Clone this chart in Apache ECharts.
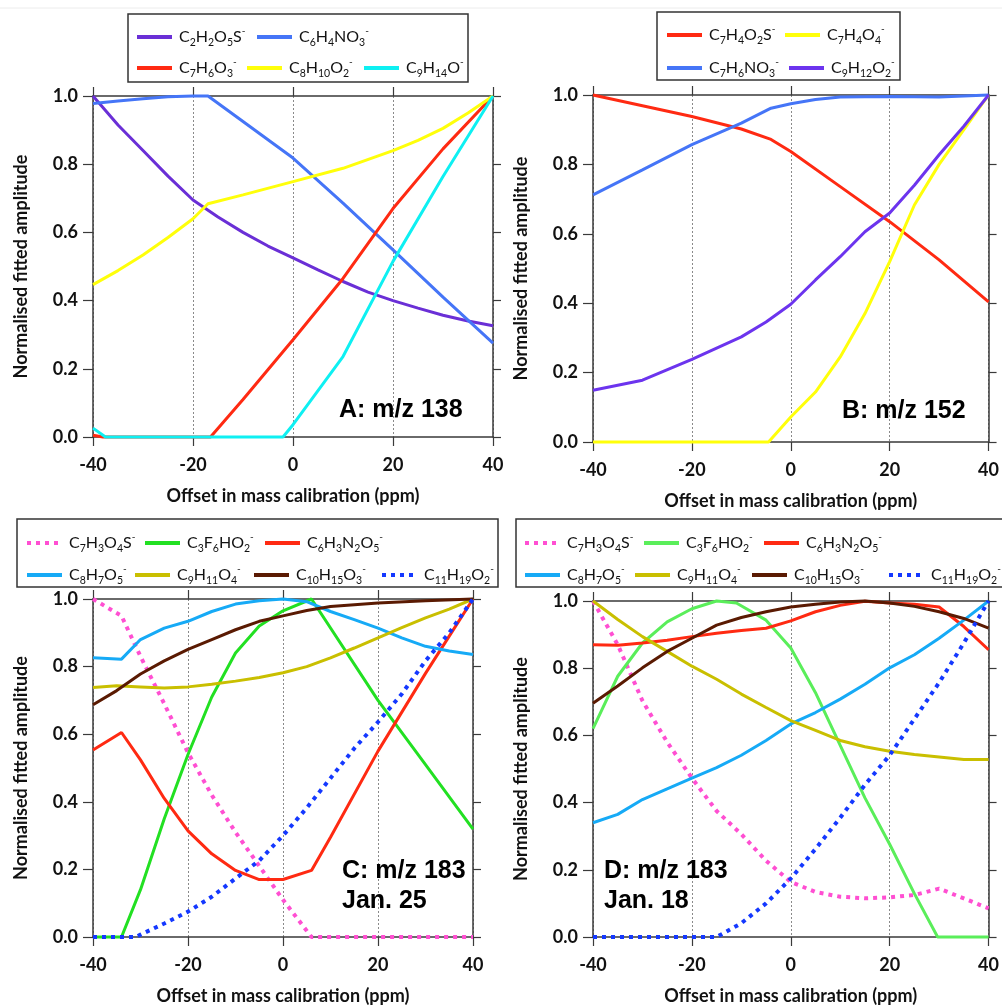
<!DOCTYPE html>
<html>
<head>
<meta charset="utf-8">
<script src="https://cdn.jsdelivr.net/npm/echarts@6/dist/echarts.min.js"></script>
<style>
html,body{margin:0;padding:0;background:#fff;}
#chart{width:1002px;height:1006px;}
</style>
</head>
<body>
<div id="chart"></div>
<script>
// ---------- Data (x = offset in ppm, y = normalised fitted amplitude) ----------
// Panel A: m/z 138
const a_C2H2O5S = [[-40,1.0],[-35,0.915],[-30,0.84],[-25,0.765],[-20,0.695],[-15,0.645],[-10,0.60],[-5,0.56],[0,0.525],[5,0.49],[10,0.456],[15,0.425],[20,0.40],[25,0.378],[30,0.357],[35,0.34],[40,0.326]];
const a_C6H4NO3 = [[-40,0.978],[-35,0.985],[-30,0.992],[-25,0.998],[-20,1.0],[-17,1.0],[-10,0.925],[0,0.818],[10,0.686],[20,0.549],[30,0.41],[40,0.275]];
const a_C7H6O3 = [[-40,0.005],[-38,0],[-16.5,0],[-10,0.11],[0,0.285],[10,0.465],[20,0.67],[30,0.845],[40,1.0]];
const a_C8H10O2 = [[-40,0.447],[-35,0.488],[-30,0.534],[-25,0.585],[-20,0.64],[-17,0.684],[-10,0.71],[0,0.749],[10,0.788],[20,0.84],[25,0.87],[30,0.905],[35,0.95],[40,1.0]];
const a_C9H14O = [[-40,0.026],[-37.5,0],[-2,0],[0,0.036],[10,0.236],[20,0.515],[30,0.764],[40,1.0]];

// Panel B: m/z 152
const b_C7H4O2S = [[-40,1.0],[-30,0.969],[-20,0.938],[-10,0.902],[-4,0.872],[0,0.837],[10,0.736],[20,0.635],[30,0.525],[40,0.404]];
const b_C7H4O4 = [[-40,0],[-4.5,0],[0,0.072],[5,0.144],[10,0.245],[15,0.37],[20,0.52],[25,0.683],[30,0.80],[35,0.90],[40,1.0]];
const b_C7H6NO3 = [[-40,0.712],[-30,0.784],[-20,0.857],[-10,0.919],[-4,0.962],[0,0.975],[5,0.987],[10,0.994],[20,0.996],[30,0.994],[40,1.0]];
const b_C9H12O2 = [[-40,0.149],[-30,0.178],[-20,0.238],[-10,0.303],[-5,0.346],[0,0.397],[5,0.467],[10,0.534],[15,0.606],[20,0.66],[25,0.74],[30,0.828],[35,0.91],[40,1.0]];

// Panel C: m/z 183, Jan. 25
const c_C7H3O4S = [[-40,1.0],[-34,0.95],[-30,0.83],[-25,0.69],[-20,0.545],[-15,0.42],[-10,0.31],[-5,0.21],[0,0.11],[6,0],[40,0]];
const c_C3F6HO2 = [[-40,0],[-34,0],[-30,0.14],[-25,0.35],[-20,0.54],[-15,0.71],[-10,0.84],[-5,0.92],[0,0.965],[6,1.0],[20,0.70],[30,0.51],[40,0.319]];
const c_C6H3N2O5 = [[-40,0.553],[-34,0.605],[-30,0.524],[-25,0.41],[-20,0.314],[-15,0.246],[-10,0.197],[-5,0.17],[0,0.17],[6,0.197],[10,0.295],[20,0.55],[30,0.78],[35,0.89],[40,1.0]];
const c_C8H7O5 = [[-40,0.826],[-34,0.822],[-30,0.88],[-25,0.914],[-20,0.934],[-15,0.963],[-10,0.985],[-5,0.995],[0,1.0],[5,0.992],[10,0.963],[15,0.939],[20,0.914],[25,0.885],[30,0.86],[35,0.846],[40,0.836]];
const c_C9H11O4 = [[-40,0.738],[-35,0.743],[-30,0.74],[-25,0.737],[-20,0.74],[-15,0.748],[-10,0.757],[-5,0.768],[0,0.782],[5,0.8],[10,0.826],[15,0.855],[20,0.885],[25,0.915],[30,0.944],[35,0.97],[40,1.0]];
const c_C10H15O3 = [[-40,0.687],[-35,0.729],[-30,0.778],[-25,0.817],[-20,0.851],[-15,0.88],[-10,0.909],[-5,0.934],[0,0.95],[5,0.966],[10,0.978],[20,0.988],[30,0.995],[40,1.0]];
const c_C11H19O2 = [[-40,0],[-31,0],[-30,0.007],[-25,0.04],[-20,0.075],[-15,0.119],[-10,0.173],[-5,0.226],[0,0.3],[5,0.382],[10,0.47],[15,0.558],[20,0.636],[25,0.719],[30,0.817],[35,0.9],[40,1.0]];

// Panel D: m/z 183, Jan. 18
const d_C7H3O4S = [[-40,1.0],[-35,0.87],[-30,0.703],[-25,0.58],[-20,0.473],[-15,0.375],[-10,0.306],[-5,0.227],[0,0.164],[5,0.134],[10,0.12],[15,0.115],[20,0.118],[25,0.125],[30,0.144],[35,0.115],[40,0.085]];
const d_C3F6HO2 = [[-40,0.62],[-35,0.776],[-30,0.875],[-25,0.938],[-20,0.977],[-15,1.0],[-11,0.994],[-5,0.943],[0,0.86],[5,0.727],[10,0.57],[15,0.414],[20,0.276],[25,0.129],[29.7,0],[40,0]];
const d_C6H3N2O5 = [[-40,0.87],[-35,0.868],[-30,0.875],[-25,0.883],[-20,0.894],[-15,0.904],[-10,0.912],[-5,0.919],[0,0.941],[5,0.968],[10,0.987],[15,0.999],[20,0.994],[25,0.99],[30,0.982],[35,0.924],[40,0.855]];
const d_C8H7O5 = [[-40,0.34],[-35,0.365],[-30,0.409],[-25,0.441],[-20,0.473],[-15,0.504],[-10,0.541],[-5,0.585],[0,0.634],[5,0.668],[10,0.708],[15,0.752],[20,0.801],[25,0.84],[30,0.889],[35,0.943],[40,1.0]];
const d_C9H11O4 = [[-40,1.0],[-35,0.945],[-30,0.894],[-25,0.85],[-20,0.806],[-15,0.767],[-10,0.723],[-5,0.683],[0,0.644],[5,0.615],[10,0.585],[15,0.566],[20,0.553],[25,0.543],[30,0.536],[35,0.528],[40,0.528]];
const d_C10H15O3 = [[-40,0.696],[-35,0.747],[-30,0.801],[-25,0.85],[-20,0.889],[-15,0.928],[-10,0.951],[-5,0.968],[0,0.982],[5,0.99],[10,0.997],[15,1.0],[20,0.994],[25,0.984],[30,0.968],[35,0.948],[40,0.919]];
const d_C11H19O2 = [[-40,0],[-15,0],[-10,0.041],[-5,0.1],[0,0.174],[5,0.262],[10,0.355],[15,0.453],[20,0.541],[25,0.649],[30,0.757],[35,0.875],[40,1.0]];

// Labels
const panelLabels = ['A: m/z 138', 'B: m/z 152', 'C: m/z 183\nJan. 25', 'D: m/z 183\nJan. 18'];
const xTitle = 'Offset in mass calibration (ppm)';
const yTitle = 'Normalised fitted amplitude';

// ---------- Chart construction ----------
const FONT = 'Lato';
const grids = [
  {left: 93, top: 96, width: 400, height: 341},
  {left: 593, top: 95, width: 399, height: 347},
  {left: 93, top: 599, width: 380, height: 342},
  {left: 593, top: 601, width: 399, height: 340}
];
const AX = '#3a3a3a';

const xAxes = [], yAxes = [];
grids.forEach((g, i) => {
  xAxes.push({
    type: 'value', gridIndex: i, min: -40, max: 40, interval: 20, position: 'bottom',
    axisLine: {show: true, onZero: false, lineStyle: {color: AX, width: 1.5}},
    axisTick: {show: true, inside: false, length: 9, lineStyle: {color: AX, width: 1.2}},
    axisLabel: {show: true, fontFamily: FONT, fontWeight: 'bold', fontSize: 18, color: '#111', margin: 19},
    splitLine: {show: true, lineStyle: {type: [2, 2], color: '#8a8a8a', width: 1}},
    name: xTitle, nameLocation: 'middle', nameGap: 50,
    nameTextStyle: {fontFamily: FONT, fontWeight: 'bold', fontSize: 18, color: '#111'}
  });
  xAxes.push({
    type: 'value', gridIndex: i, min: -40, max: 40, interval: 20, position: 'top',
    axisLine: {show: true, onZero: false, lineStyle: {color: AX, width: 1.5}},
    axisTick: {show: true, inside: false, length: 9, lineStyle: {color: AX, width: 1.2}},
    axisLabel: {show: false}, splitLine: {show: false}
  });
  yAxes.push({
    type: 'value', gridIndex: i, min: 0, max: 1, interval: 0.2, position: 'left',
    axisLine: {show: true, onZero: false, lineStyle: {color: AX, width: 1.5}},
    axisTick: {show: true, inside: false, length: 10, lineStyle: {color: AX, width: 1.2}},
    axisLabel: {show: true, fontFamily: FONT, fontWeight: 'bold', fontSize: 18, color: '#111', margin: 15,
      formatter: v => v.toFixed(1)},
    splitLine: {show: false},
    name: yTitle, nameLocation: 'middle', nameGap: 63,
    nameTextStyle: {fontFamily: FONT, fontWeight: 'bold', fontSize: 18, color: '#111'}
  });
  yAxes.push({
    type: 'value', gridIndex: i, min: 0, max: 1, interval: 0.2, position: 'right',
    axisLine: {show: true, onZero: false, lineStyle: {color: AX, width: 1.5}},
    axisTick: {show: true, inside: false, length: 8, lineStyle: {color: AX, width: 1.2}},
    axisLabel: {show: false}, splitLine: {show: false}
  });
});

const DOT = [4, 5];
const seriesDefs = [
  // panel, name, data, color, dotted
  [0, 'C2H2O5S-', a_C2H2O5S, '#6a2fd6', false],
  [0, 'C6H4NO3-', a_C6H4NO3, '#4575f7', false],
  [0, 'C7H6O3-', a_C7H6O3, '#ff2a12', false],
  [0, 'C8H10O2-', a_C8H10O2, '#ffff0a', false],
  [0, 'C9H14O-', a_C9H14O, '#0ef0f2', false],
  [1, 'C7H4O2S-', b_C7H4O2S, '#ff2a12', false],
  [1, 'C7H4O4-', b_C7H4O4, '#ffff0a', false],
  [1, 'C7H6NO3-', b_C7H6NO3, '#4575f7', false],
  [1, 'C9H12O2-', b_C9H12O2, '#6c34ee', false],
  [2, 'C7H3O4S-', c_C7H3O4S, '#ff4fd2', true],
  [2, 'C3F6HO2-', c_C3F6HO2, '#22e022', false],
  [2, 'C6H3N2O5-', c_C6H3N2O5, '#ff2a12', false],
  [2, 'C8H7O5-', c_C8H7O5, '#16aaf6', false],
  [2, 'C9H11O4-', c_C9H11O4, '#c9bf00', false],
  [2, 'C10H15O3-', c_C10H15O3, '#5a1a02', false],
  [2, 'C11H19O2-', c_C11H19O2, '#1438ff', true],
  [3, 'C7H3O4S-', d_C7H3O4S, '#ff4fd2', true],
  [3, 'C3F6HO2-', d_C3F6HO2, '#5aee5a', false],
  [3, 'C6H3N2O5-', d_C6H3N2O5, '#ff2a12', false],
  [3, 'C8H7O5-', d_C8H7O5, '#16aaf6', false],
  [3, 'C9H11O4-', d_C9H11O4, '#c9bf00', false],
  [3, 'C10H15O3-', d_C10H15O3, '#5a1a02', false],
  [3, 'C11H19O2-', d_C11H19O2, '#1438ff', true]
];
const series = seriesDefs.map(([p, name, data, color, dotted]) => ({
  type: 'line', name, data, xAxisIndex: p * 2, yAxisIndex: p * 2,
  symbol: 'none', showSymbol: false, clip: false, smooth: false,
  color: color,
  lineStyle: {color, width: dotted ? 4 : 3, type: dotted ? DOT : 'solid', cap: 'butt'},
  emphasis: {disabled: true}
}));

// legend items: [name, left, top, optional icon colour override]
const legendItems = [
  ['C2H2O5S-', 135, 26], ['C6H4NO3-', 255, 26],
  ['C7H6O3-', 135, 57], ['C8H10O2-', 245, 57], ['C9H14O-', 362, 57],
  ['C7H4O2S-', 665, 24], ['C7H4O4-', 783, 24],
  ['C7H6NO3-', 665, 57], ['C9H12O2-', 787, 57],
  ['C7H3O4S-', 25, 532], ['C3F6HO2-', 143, 532], ['C6H3N2O5-', 263, 532],
  ['C8H7O5-', 25, 564], ['C9H11O4-', 133, 564], ['C10H15O3-', 252, 564], ['C11H19O2-', 380, 564],
  ['C7H3O4S-', 523, 532], ['C3F6HO2-', 642, 532, '#5aee5a'], ['C6H3N2O5-', 762, 532],
  ['C8H7O5-', 523, 564], ['C9H11O4-', 633, 564], ['C10H15O3-', 750, 564], ['C11H19O2-', 887, 564]
];
function fmtFormula(name) {
  let s = '';
  let base = name;
  let sup = '';
  if (base.endsWith('-')) { base = base.slice(0, -1); sup = '{p|-}'; }
  base.replace(/(\d+)|([^\d]+)/g, (m, d, t) => {
    if (d) s += '{s|' + d + '}'; else s += '{n|' + t + '}';
    return m;
  });
  return '{g|}' + s + sup;
}
const legends = legendItems.map(([name, left, top, col]) => ({
  data: [col ? {name, lineStyle: {color: col, width: 4}} : name], left, top, width: 300, padding: 0,
  orient: 'horizontal', itemWidth: 35, itemHeight: 14,
  selectedMode: false,
  itemStyle: {opacity: 0, borderWidth: 0},
  lineStyle: {width: 4},
  formatter: fmtFormula,
  textStyle: {
    fontFamily: FONT, fontSize: 16, color: '#111', lineHeight: 22,
    rich: {
      g: {width: 2, lineHeight: 22},
      n: {fontFamily: FONT, fontSize: 16, color: '#111', lineHeight: 22, verticalAlign: 'middle'},
      s: {fontFamily: FONT, fontSize: 10.5, color: '#111', lineHeight: 11, verticalAlign: 'bottom'},
      p: {fontFamily: FONT, fontSize: 10, color: '#111', lineHeight: 10, verticalAlign: 'top'}
    }
  }
}));

const boxStyle = {fill: 'none', stroke: '#333', lineWidth: 1.5};
const labelFont = 'bold 25px "Liberation Sans", Arial, sans-serif';
const graphic = [
  {type: 'line', shape: {x1: 0, y1: 8, x2: 1002, y2: 8}, style: {stroke: '#ececec', lineWidth: 1}, silent: true},
  {type: 'rect', shape: {x: 128, y: 14, width: 340, height: 68}, style: boxStyle, silent: true},
  {type: 'rect', shape: {x: 657, y: 12, width: 243, height: 68}, style: boxStyle, silent: true},
  {type: 'rect', shape: {x: 17, y: 519, width: 481, height: 68}, style: boxStyle, silent: true},
  {type: 'rect', shape: {x: 516, y: 519, width: 520, height: 68}, style: boxStyle, silent: true},
  {type: 'text', left: 339, top: 398, style: {text: panelLabels[0], font: labelFont, fill: '#000'}, z: 100},
  {type: 'text', left: 842, top: 399, style: {text: panelLabels[1], font: labelFont, fill: '#000'}, z: 100},
  {type: 'text', left: 342, top: 856, style: {text: panelLabels[2], font: labelFont, fill: '#000', lineHeight: 30}, z: 100},
  {type: 'text', left: 604, top: 856, style: {text: panelLabels[3], font: labelFont, fill: '#000', lineHeight: 30}, z: 100}
];

const chart = echarts.init(document.getElementById('chart'), null, {renderer: 'canvas'});
chart.setOption({
  backgroundColor: '#ffffff',
  animation: false,
  grid: grids.map(g => Object.assign({containLabel: false}, g)),
  xAxis: xAxes,
  yAxis: yAxes,
  legend: legends,
  series,
  graphic
});
</script>
</body>
</html>
